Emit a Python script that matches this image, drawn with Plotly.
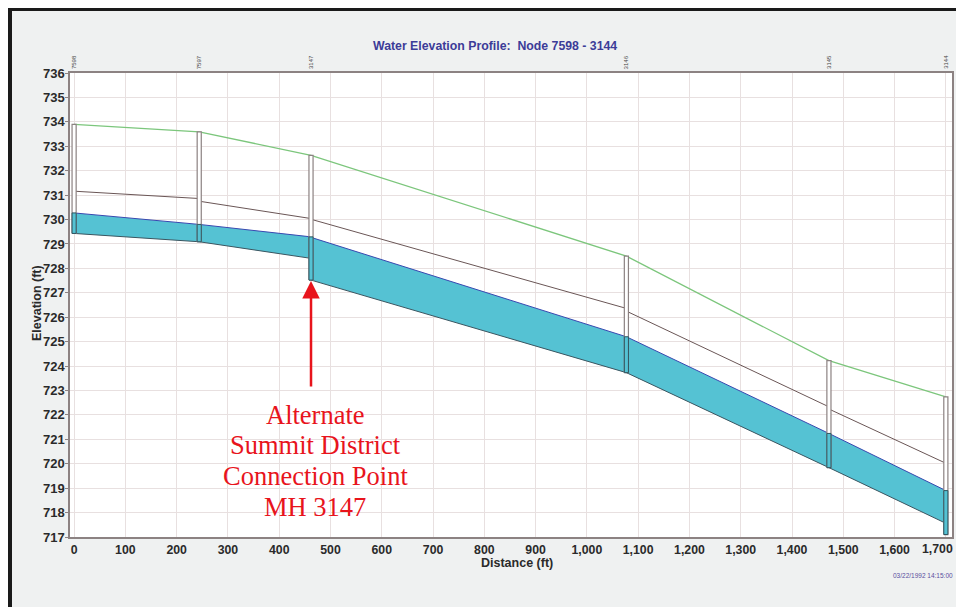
import plotly.graph_objects as go

# ---------------- data ----------------
nodes = ["7598", "7597", "3147", "3146", "3145", "3144"]
node_dist = [0, 244, 462, 1077, 1472, 1700]
ground_elev = [733.90, 733.59, 732.63, 728.50, 724.22, 722.74]
node_bottom = [729.43, 729.09, 727.52, 723.73, 719.84, 717.10]
node_crown = [730.27, 729.80, 729.29, 725.20, 721.24, 718.90]

link_up_invert = [729.43, 729.09, 727.52, 723.73, 719.84]
link_dn_invert = [729.09, 728.41, 723.73, 719.84, 717.56]
link_up_crown = [730.27, 729.80, 729.27, 725.20, 721.24]
link_dn_crown = [729.80, 729.29, 725.20, 721.24, 718.90]
hgl_up = [731.16, 730.75, 730.01, 726.25, 722.24]
hgl_dn = [730.86, 730.04, 726.36, 722.33, 720.02]

x_ticks = list(range(0, 1701, 100))
y_ticks = list(range(717, 737))

title_text = "Water Elevation Profile:  Node 7598 - 3144"
x_title = "Distance (ft)"
y_title = "Elevation (ft)"
stamp_text = "03/22/1992 14:15:00"
note_lines = ["Alternate", "Summit District", "Connection Point", "MH 3147"]
note_node = "3147"

# ---------------- style ----------------
OFF = 8                      # page body margin in the browser
W, H = 964 - OFF, 607 - OFF  # figure size
# plot area edges in page pixels
L, R, T, B = 70, 952, 73, 537
MH_W = 8  # manhole drawn width in ft
CYAN = "#55c2d3"
FRAME = "#8c8282"
GRID = "#e8e0e0"
SANS = "Arial, Liberation Sans"
TICK_FONT = dict(family=SANS, size=12.3, color="#2a2a2a", weight="bold")


def px_x(p):
    return (p - L) / (R - L)


def px_y(p):
    return (B - p) / (B - T)


fig = go.Figure()

# pipe fills
for i in range(len(link_up_invert)):
    x0, x1 = node_dist[i], node_dist[i + 1]
    fig.add_trace(go.Scatter(
        x=[x0, x1, x1, x0, x0],
        y=[link_up_invert[i], link_dn_invert[i], link_dn_crown[i], link_up_crown[i], link_up_invert[i]],
        mode="lines", fill="toself", fillcolor=CYAN, line=dict(width=0),
        hoverinfo="skip", showlegend=False))

# crown and invert lines, HGL
cx, cy, ix, iy, hx, hy = [], [], [], [], [], []
for i in range(len(link_up_invert)):
    x0, x1 = node_dist[i], node_dist[i + 1]
    cx += [x0, x1, None]; cy += [link_up_crown[i], link_dn_crown[i], None]
    ix += [x0, x1, None]; iy += [link_up_invert[i], link_dn_invert[i], None]
    hx += [x0, x1, None]; hy += [hgl_up[i], hgl_dn[i], None]

fig.add_trace(go.Scatter(x=cx, y=cy, mode="lines", line=dict(color="#3848b0", width=1),
                         hoverinfo="skip", showlegend=False))
fig.add_trace(go.Scatter(x=ix, y=iy, mode="lines", line=dict(color="#3a5560", width=1),
                         hoverinfo="skip", showlegend=False))
fig.add_trace(go.Scatter(x=hx, y=hy, mode="lines", line=dict(color="#6a5656", width=1),
                         hoverinfo="skip", showlegend=False))

# ground line
fig.add_trace(go.Scatter(x=node_dist, y=ground_elev, mode="lines",
                         line=dict(color="#7cc67c", width=1.3),
                         hoverinfo="skip", showlegend=False))

# manholes
for i, d in enumerate(node_dist):
    a, b = d - MH_W / 2, d + MH_W / 2
    fig.add_trace(go.Scatter(
        x=[a, b, b, a, a],
        y=[node_bottom[i], node_bottom[i], ground_elev[i], ground_elev[i], node_bottom[i]],
        mode="lines", fill="toself", fillcolor="white",
        line=dict(color=FRAME, width=1.2), hoverinfo="skip", showlegend=False))
    fig.add_trace(go.Scatter(
        x=[a, b, b, a, a],
        y=[node_bottom[i], node_bottom[i], node_crown[i], node_crown[i], node_bottom[i]],
        mode="lines", fill="toself", fillcolor=CYAN,
        line=dict(color="#2f5560", width=1), hoverinfo="skip", showlegend=False))

annotations = []
# node labels at top
for n, d in zip(nodes, node_dist):
    annotations.append(dict(x=d, y=1, xref="x", yref="paper", text=n, showarrow=False,
                            textangle=-90, yanchor="bottom", yshift=2,
                            font=dict(family=SANS, size=6, color="#444444")))

# last x tick label pulled inward so it stays inside the page
x_tick_text = [f"{v:,}" for v in x_ticks]
last_label = x_tick_text[-1]
x_tick_text[-1] = ""
annotations.append(dict(x=x_ticks[-1], y=0, xref="x", yref="paper", text=last_label,
                        showarrow=False, xanchor="center", yanchor="top", xshift=-8, yshift=-3,
                        font=TICK_FONT))

# title
annotations.append(dict(x=px_x(495), y=px_y(46), xref="paper", yref="paper", text=title_text,
                        showarrow=False, xanchor="center", yanchor="middle",
                        font=dict(family=SANS, size=12.3, color="#3c3c98", weight="bold")))
# axis titles
annotations.append(dict(x=px_x(517), y=px_y(563), xref="paper", yref="paper", text=x_title,
                        showarrow=False, xanchor="center", yanchor="middle",
                        font=dict(family=SANS, size=12.5, color="#2a2a2a", weight="bold")))
annotations.append(dict(x=px_x(37), y=px_y(303), xref="paper", yref="paper", text=y_title,
                        showarrow=False, xanchor="center", yanchor="middle", textangle=-90,
                        font=dict(family=SANS, size=12.5, color="#2a2a2a", weight="bold")))
# time stamp
annotations.append(dict(x=px_x(923), y=px_y(575), xref="paper", yref="paper", text=stamp_text,
                        showarrow=False, xanchor="center", yanchor="middle",
                        font=dict(family=SANS, size=6.5, color="#5a4fa0")))

# callout
k = nodes.index(note_node)
annotations.append(dict(x=node_dist[k], y=node_bottom[k], xref="x", yref="y", text="",
                        showarrow=True, ax=0, ay=108, arrowhead=2, arrowsize=1.4,
                        arrowwidth=2.5, arrowcolor="#e8141c", standoff=1))
line_y = [415, 445, 476, 507]
for txt, yy in zip(note_lines, line_y):
    annotations.append(dict(x=px_x(315), y=px_y(yy), xref="paper", yref="paper", text=txt,
                            showarrow=False, xanchor="center", yanchor="middle",
                            font=dict(family="Liberation Serif, Times New Roman", size=26.5,
                                      color="#e8141c")))

shapes = [
    # black frame (top and left edges)
    dict(type="line", xref="paper", yref="paper", x0=px_x(9), x1=px_x(980), y0=px_y(9.5),
         y1=px_y(9.5), line=dict(color="#1a1a1a", width=3)),
    dict(type="line", xref="paper", yref="paper", x0=px_x(10), x1=px_x(10), y0=px_y(8),
         y1=px_y(620), line=dict(color="#1a1a1a", width=4)),
]

fig.update_layout(
    width=W, height=H, autosize=False,
    margin=dict(l=L - OFF, r=W - (R - OFF), t=T - OFF, b=H - (B - OFF), pad=0),
    paper_bgcolor="#eff1f1", plot_bgcolor="white",
    showlegend=False,
    annotations=annotations, shapes=shapes,
    xaxis=dict(range=[-8, 1712], tickvals=x_ticks, ticktext=x_tick_text, showgrid=True,
               gridcolor=GRID, gridwidth=1, zeroline=False, showline=True, mirror=True,
               linecolor=FRAME, linewidth=1.5, ticks="", fixedrange=True, automargin=False,
               tickfont=TICK_FONT),
    yaxis=dict(range=[717, 736], tickvals=y_ticks, showgrid=True, gridcolor=GRID, gridwidth=1,
               zeroline=False, showline=True, mirror=True, linecolor=FRAME, linewidth=1.5,
               ticks="outside", ticklen=3, tickcolor=FRAME, fixedrange=True, automargin=False,
               ticklabelstandoff=-2,
               tickfont=dict(family=SANS, size=13, color="#2a2a2a", weight="bold")),
)

fig.write_html("out.html")
